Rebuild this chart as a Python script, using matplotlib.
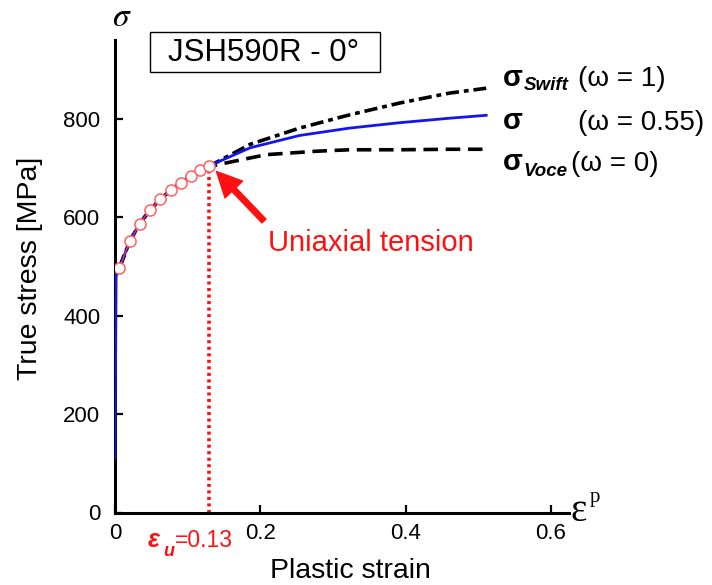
import matplotlib
matplotlib.use("Agg")
import matplotlib.pyplot as plt
from matplotlib.patches import Rectangle, FancyArrowPatch

plt.rcParams['font.family'] = ['Liberation Sans', 'DejaVu Sans']
plt.rcParams['mathtext.fontset'] = 'stix'
plt.rcParams['lines.scale_dashes'] = False

# ---------------- data ----------------
strain_exp = [0.006, 0.0206, 0.034, 0.048, 0.0619, 0.0766, 0.0907, 0.104, 0.1168, 0.1296]
stress_exp = [497, 552, 587, 614, 636, 655, 670, 683, 695, 704]

strain_sigma = [0.0, 0.0015, 0.006, 0.0206, 0.034, 0.048, 0.062, 0.077, 0.091, 0.104,
                0.117, 0.13, 0.14, 0.186, 0.254, 0.323, 0.392, 0.46, 0.511]
stress_sigma = [110, 480, 497, 552, 587, 614, 636, 655, 670, 683,
                695, 704, 711, 741, 766, 781, 792, 801, 807]

strain_swift = [0.006, 0.0206, 0.034, 0.048, 0.062, 0.077, 0.091, 0.104, 0.117, 0.13,
                0.186, 0.254, 0.323, 0.392, 0.46, 0.511]
stress_swift = [497, 552, 587, 614, 636, 655, 670, 683, 695, 704,
                748, 781, 808, 832, 852, 862]

strain_voce = [0.006, 0.0206, 0.034, 0.048, 0.062, 0.077, 0.091, 0.104, 0.117, 0.13,
               0.162, 0.208, 0.277, 0.323, 0.392, 0.46, 0.511]
stress_voce = [497, 552, 587, 614, 636, 655, 670, 683, 695, 703,
               713, 727, 734, 737, 737, 738, 738]

eps_u = 0.13
eps_u_stress = 700
xticks = [0, 0.2, 0.4, 0.6]
xtick_labels = ['0', '0.2', '0.4', '0.6']
yticks = [0, 200, 400, 600, 800]
ytick_labels = ['0', '200', '400', '600', '800']
title_text = 'JSH590R - 0°'

# ---------------- figure ----------------
W, H = 712, 585
fig = plt.figure(figsize=(W / 100, H / 100), dpi=100)


def P(x, y):
    """pixel (from top-left) -> figure fraction"""
    return (x / W, 1 - y / H)


ax_l, ax_r, ax_t, ax_b = 115, 569, 40, 512.5
ax = fig.add_axes([ax_l / W, 1 - ax_b / H, (ax_r - ax_l) / W, (ax_b - ax_t) / H])
ax.set_xlim(0, 0.625)
ax.set_ylim(0, 960)

ax.plot(strain_swift, stress_swift, color='black', lw=2.6,
        dashes=(9.5, 3.5, 3.5, 3.5), zorder=3)
ax.plot(strain_voce, stress_voce, color='black', lw=2.6,
        dashes=(10.5, 5.5), zorder=3)
ax.plot(strain_sigma, stress_sigma, color='#1414f0', lw=2.0, zorder=4)
ax.plot(strain_exp, stress_exp, color='#ff3030', lw=0.9, zorder=5,
        marker='o', markersize=8.0, markerfacecolor='white',
        markeredgecolor='#ff6060', markeredgewidth=1.1)
ax.plot([eps_u, eps_u], [0, eps_u_stress], color='#ff1010', lw=2.6,
        dashes=(2.2, 2.5), zorder=2, solid_capstyle='butt', dash_capstyle='butt')

for s in ['top', 'right']:
    ax.spines[s].set_visible(False)
for s in ['left', 'bottom']:
    ax.spines[s].set_linewidth(2.2)

ax.set_xticks(xticks)
ax.set_xticklabels(xtick_labels)
ax.set_yticks(yticks)
ax.set_yticklabels(ytick_labels)
ax.tick_params(axis='both', direction='in', length=5.8, width=1.6, labelsize=16)
ax.tick_params(axis='x', pad=7.5)
ax.tick_params(axis='y', pad=10.5)

# axis labels
fig.text(*P(30, 268), 'True stress [MPa]', rotation=90, fontsize=20.5,
         ha='center', va='center')
fig.text(*P(350, 578), 'Plastic strain', fontsize=20.5, ha='center', va='baseline')

# sigma and eps^p symbols at axis ends
fig.text(*P(122, 18), r'$\sigma$', fontsize=24, ha='center', va='center')
fig.text(*P(571, 521), 'ε', fontsize=28, family=['Liberation Serif', 'DejaVu Serif'],
         ha='left', va='baseline')
fig.text(*P(590, 502), 'p', fontsize=15, family=['Liberation Serif', 'DejaVu Serif'],
         ha='left', va='baseline')

# title box
fig.patches.append(Rectangle(P(150, 72), (380 - 150) / W, (72 - 32) / H,
                             transform=fig.transFigure, fill=False,
                             edgecolor='black', lw=1.0))
fig.text(*P(264, 53), title_text, fontsize=22.5, ha='center', va='center')

# legend-like labels on the right
fig.text(*P(503, 86), 'σ', fontsize=21, weight='bold', ha='left', va='baseline')
fig.text(*P(524, 90), 'Swift', fontsize=13.5, weight='bold', style='italic',
         ha='left', va='baseline')
fig.text(*P(578, 86), '(ω = 1)', fontsize=20, ha='left', va='baseline')

fig.text(*P(503, 129), 'σ', fontsize=21, weight='bold', ha='left', va='baseline')
fig.text(*P(578, 130), '(ω = 0.55)', fontsize=20, ha='left', va='baseline')

fig.text(*P(503, 170), 'σ', fontsize=21, weight='bold', ha='left', va='baseline')
fig.text(*P(523, 176), 'Voce', fontsize=13.5, weight='bold', style='italic',
         ha='left', va='baseline')
fig.text(*P(571, 171), '(ω = 0)', fontsize=20, ha='left', va='baseline')

# uniaxial tension annotation
arrow = FancyArrowPatch(P(264, 221), P(216.5, 171.5), transform=fig.transFigure,
                        arrowstyle='simple,head_length=1.8,head_width=1.75,tail_width=0.4',
                        mutation_scale=10, color='#ff1010', shrinkA=0, shrinkB=0)
fig.patches.append(arrow)
fig.text(*P(268, 251), 'Uniaxial tension', fontsize=21, color='#ff1010',
         ha='left', va='baseline')

# eps_u label
fig.text(*P(148, 547), 'ε', fontsize=18, weight='bold', style='italic',
         color='#ff1010', ha='left', va='baseline')
fig.text(*P(163, 556), 'u', fontsize=13, weight='bold', style='italic',
         color='#ff1010', ha='left', va='baseline')
fig.text(*P(175, 547), '=0.13', fontsize=16.5, color='#ff1010', ha='left', va='baseline')

fig.savefig('out.png', dpi=100)
